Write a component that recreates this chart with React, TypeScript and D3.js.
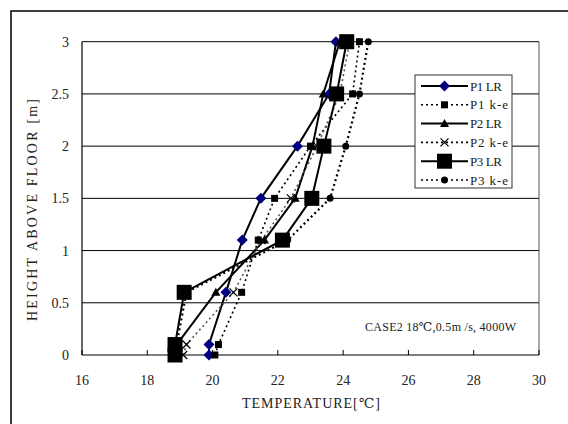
import React from "react";
import * as d3 from "d3";

const heights = [0, 0.1, 0.6, 1.1, 1.5, 2.0, 2.5, 3.0];
const p1LR = [19.89, 19.89, 20.41, 20.91, 21.48, 22.6, 23.57, 23.78];
const p1KE = [20.07, 20.18, 20.89, 21.4, 21.9, 23.0, 24.29, 24.5];
const p2LR = [18.9, 18.9, 20.1, 21.59, 22.53, 23.06, 23.39, 23.9];
const p2KE = [19.1, 19.2, 20.64, 21.5, 22.4, 23.2, 23.9, 24.2];
const p3LR = [18.85, 18.85, 19.13, 22.14, 23.04, 23.41, 23.8, 24.11];
const p3KE = [18.9, 18.9, 19.2, 22.3, 23.6, 24.08, 24.5, 24.77];

const xTicks = [16, 18, 20, 22, 24, 26, 28, 30];
const yTicks = [0, 0.5, 1, 1.5, 2, 2.5, 3];
const yTickLabels = ["0", "0.5", "1", "1.5", "2", "2.5", "3"];

type Marker = "diamond" | "square" | "triangle" | "x" | "bigsquare" | "circle";
const seriesNames = ["P1 LR", "P1 k-e", "P2 LR", "P2 k-e", "P3 LR", "P3 k-e"];
const seriesValues = [p1LR, p1KE, p2LR, p2KE, p3LR, p3KE];
const seriesMarkers: Marker[] = ["diamond", "square", "triangle", "x", "bigsquare", "circle"];
const seriesDashed = [false, true, false, true, false, true];

const FONT = "'Liberation Serif', 'DejaVu Serif', serif";

function MarkerShape({ type, x, y }: { type: Marker; x: number; y: number }) {
  switch (type) {
    case "diamond":
      return <path d={`M${x},${y - 5.5}L${x + 5.5},${y}L${x},${y + 5.5}L${x - 5.5},${y}Z`} fill="#000080" />;
    case "square":
      return <rect x={x - 3.5} y={y - 3.5} width={7} height={7} fill="#000" />;
    case "triangle":
      return <path d={`M${x},${y - 4.5}L${x + 4.5},${y + 3.5}L${x - 4.5},${y + 3.5}Z`} fill="#000" />;
    case "x":
      return (
        <path d={`M${x - 4},${y - 4}L${x + 4},${y + 4}M${x + 4},${y - 4}L${x - 4},${y + 4}`} stroke="#000" strokeWidth={1.3} />
      );
    case "bigsquare":
      return <rect x={x - 7.5} y={y - 7.5} width={15} height={15} fill="#000" />;
    case "circle":
      return <circle cx={x} cy={y} r={3.5} fill="#000" />;
  }
}

export default function App() {
  const W = 568;
  const H = 424;
  const left = 82, right = 539, top = 41.7, bottom = 355;
  const x = d3.scaleLinear().domain([16, 30]).range([left, right]);
  const y = d3.scaleLinear().domain([0, 3]).range([bottom, top]);
  const line = d3
    .line<[number, number]>()
    .x((d) => x(d[0]))
    .y((d) => y(d[1]));

  const legX = 415, legY = 75, legW = 97, legH = 113;
  const legRow = (i: number) => legY + 11 + i * 18.8;

  return (
    <svg width={W} height={H} style={{ position: "absolute", left: 0, top: 0 }}>
      <rect x={0} y={0} width={W} height={H} fill="#fff" />
      <rect x={11} y={11} width={700} height={600} fill="none" stroke="#000" strokeWidth={1.5} />

      {/* grid */}
      {yTicks.slice(1).map((t) => (
        <line key={t} x1={left} x2={right} y1={y(t)} y2={y(t)} stroke="#000" strokeWidth={1} />
      ))}
      <line x1={right} x2={right} y1={top} y2={bottom} stroke="#555" strokeWidth={1} />
      <line x1={left} x2={left} y1={top} y2={bottom} stroke="#000" strokeWidth={1.2} />
      <line x1={left} x2={right} y1={bottom} y2={bottom} stroke="#000" strokeWidth={1.2} />
      {xTicks.map((t) => (
        <line key={t} x1={x(t)} x2={x(t)} y1={bottom} y2={bottom - 5} stroke="#000" strokeWidth={1} />
      ))}

      {/* tick labels */}
      {xTicks.map((t) => (
        <text key={t} x={x(t)} y={385} fontFamily={FONT} fontSize={14} textAnchor="middle" fill="#222">
          {t}
        </text>
      ))}
      {yTicks.map((t, i) => (
        <text key={t} x={69} y={y(t) + 5} fontFamily={FONT} fontSize={14} textAnchor="end" fill="#222">
          {yTickLabels[i]}
        </text>
      ))}

      <text x={311} y={408} fontFamily={FONT} fontSize={14} textAnchor="middle" textLength={138} lengthAdjust="spacing" fill="#222">
        TEMPERATURE[℃]
      </text>
      <text
        transform="translate(37,210) rotate(-90)"
        fontFamily={FONT}
        fontSize={14}
        textAnchor="middle"
        textLength={222}
        lengthAdjust="spacing"
        fill="#222"
      >
        HEIGHT ABOVE FLOOR [m]
      </text>

      {/* series lines */}
      {seriesValues.map((vals, si) => (
        <path
          key={si}
          d={line(vals.map((v, i) => [v, heights[i]] as [number, number])) || ""}
          fill="none"
          stroke={seriesDashed[si] ? (si === 3 ? "#555" : "#000") : "#000"}
          strokeWidth={seriesDashed[si] ? (si === 5 ? 2.2 : 1.6) : 2}
          strokeDasharray={seriesDashed[si] ? "2,3" : undefined}
        />
      ))}
      {seriesValues.map((vals, si) =>
        vals.map((v, i) => <MarkerShape key={`${si}-${i}`} type={seriesMarkers[si]} x={x(v)} y={y(heights[i])} />)
      )}

      {/* legend */}
      <rect x={legX} y={legY} width={legW} height={legH} fill="#fff" stroke="#333" strokeWidth={1} />
      {seriesNames.map((n, i) => (
        <g key={n}>
          <line
            x1={421}
            x2={468}
            y1={legRow(i)}
            y2={legRow(i)}
            stroke="#000"
            strokeWidth={seriesDashed[i] ? 1.6 : 2}
            strokeDasharray={seriesDashed[i] ? "2,3" : undefined}
          />
          <MarkerShape type={seriesMarkers[i]} x={444.5} y={legRow(i)} />
          <text
            x={470}
            y={legRow(i) + 4.5}
            fontFamily={FONT}
            fontSize={13}
            fill="#222"
            textLength={n.includes("k") ? 38 : 32}
            lengthAdjust="spacing"
          >
            {n}
          </text>
        </g>
      ))}

      <text x={365} y={331} fontFamily={FONT} fontSize={12} fill="#222" textLength={151} lengthAdjust="spacing">
        CASE2 18℃,0.5m /s, 4000W
      </text>
    </svg>
  );
}
